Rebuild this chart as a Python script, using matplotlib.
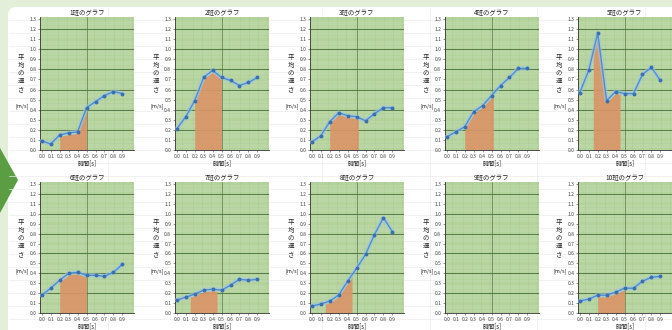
import numpy as np
import matplotlib
matplotlib.use('Agg')
import matplotlib.pyplot as plt
from matplotlib.patches import FancyBboxPatch, Polygon

plt.rcParams['font.family'] = ['Noto Sans CJK JP', 'DejaVu Sans']

# data (time [s] vs mean speed [m/s])
time_s = [0.0, 0.1, 0.2, 0.3, 0.4, 0.5, 0.6, 0.7, 0.8, 0.9]
titles = ['1班のグラフ', '2班のグラフ', '3班のグラフ', '4班のグラフ', '5班のグラフ',
          '6班のグラフ', '7班のグラフ', '8班のグラフ', '9班のグラフ', '10班のグラフ']
speed_1 = [0.09, 0.06, 0.15, 0.17, 0.18, 0.42, 0.48, 0.54, 0.58, 0.56]
speed_2 = [0.21, 0.33, 0.49, 0.72, 0.79, 0.72, 0.69, 0.64, 0.67, 0.72]
speed_3 = [0.08, 0.14, 0.28, 0.37, 0.34, 0.33, 0.29, 0.36, 0.42, 0.42]
speed_4 = [0.13, 0.18, 0.23, 0.38, 0.44, 0.54, 0.64, 0.72, 0.81, 0.81]
speed_5 = [0.57, 0.79, 1.16, 0.49, 0.58, 0.56, 0.56, 0.75, 0.82, 0.69]
speed_6 = [0.18, 0.25, 0.33, 0.40, 0.41, 0.38, 0.38, 0.37, 0.41, 0.49]
speed_7 = [0.13, 0.16, 0.19, 0.23, 0.24, 0.23, 0.28, 0.34, 0.33, 0.34]
speed_8 = [0.07, 0.09, 0.12, 0.18, 0.32, 0.45, 0.59, 0.79, 0.96, 0.82]
speed_9 = []
speed_10 = [0.12, 0.14, 0.18, 0.18, 0.21, 0.25, 0.25, 0.32, 0.36, 0.37]
speeds = [speed_1, speed_2, speed_3, speed_4, speed_5,
          speed_6, speed_7, speed_8, speed_9, speed_10]
# shaded interval (distance moved) for each group
fill_from = [0.2, 0.2, 0.2, 0.2, 0.15, 0.2, 0.15, 0.15, None, 0.2]
fill_to = [0.5, 0.5, 0.52, 0.52, 0.45, 0.5, 0.45, 0.45, None, 0.5]
ylabel_chars = ['平', '均', 'の', '速', 'さ']

W, H = 672, 330
fig = plt.figure(figsize=(W / 100, H / 100), dpi=100)
fig.patch.set_facecolor('#e3efd9')


def fx(x):
    return x / W


def fy(y):
    return 1 - y / H


# page panel + spreadsheet grid
bg = fig.add_axes([0, 0, 1, 1], zorder=-10)
bg.set_xlim(0, W)
bg.set_ylim(H, 0)
bg.axis('off')
bg.add_patch(FancyBboxPatch((8, 7), W + 20, H + 20, boxstyle='round,pad=0,rounding_size=8',
                            fc='white', ec='none'))
for yy in np.arange(20, H, 13):
    bg.plot([9, W], [yy, yy], color='#ececec', lw=0.5)
for xx in [108, 215, 322, 430, 537, 645]:
    bg.plot([xx, xx], [8, H], color='#ececec', lw=0.5)
bg.add_patch(Polygon([(0, 148), (18, 180), (0, 213)], closed=True, fc='#5a9d43', ec='none'))

cols = [40, 175, 310, 445, 578]
rows = [(17, 150), (182, 313)]
aw = 94

for i in range(10):
    r, c = divmod(i, 5)
    top, bot = rows[r]
    left = cols[c]
    ax = fig.add_axes([fx(left), fy(bot), fx(aw), (bot - top) / H])
    ax.set_facecolor('#abcd90')
    ax.set_xlim(-0.02, 1.03)
    ax.set_ylim(0, 1.32)
    ax.set_xticks(np.arange(0, 1.0, 0.1))
    ax.set_xticklabels([f'{v:.1f}' for v in np.arange(0, 1.0, 0.1)])
    ax.set_yticks(np.arange(0, 1.31, 0.1))
    ax.set_yticklabels([f'{v:.1f}' for v in np.arange(0, 1.31, 0.1)])
    ax.set_xticks(np.arange(0, 1.03, 0.025), minor=True)
    ax.set_yticks(np.arange(0, 1.32, 0.025), minor=True)
    ax.tick_params(which='major', labelsize=3.6, length=1.5, width=0.4, pad=1.2,
                   colors='#444444')
    ax.tick_params(which='minor', length=0)
    ax.grid(which='minor', color='#d2e5c4', lw=0.35)
    ax.grid(which='major', axis='x', color='#d2e5c4', lw=0.35)
    for yy in np.arange(0.2, 1.3, 0.2):
        ax.axhline(yy, color='#3d6534', lw=0.55, zorder=1.5)
    ax.axvline(0.5, color='#4d7442', lw=0.45, zorder=1.5)
    ax.set_axisbelow(True)
    for s in ['top', 'right']:
        ax.spines[s].set_visible(False)
    for s in ['left', 'bottom']:
        ax.spines[s].set_color('#333333')
        ax.spines[s].set_linewidth(0.6)

    vals = speeds[i]
    if vals:
        xs = np.array(time_s[:len(vals)])
        ys = np.array(vals)
        a, b = fill_from[i], fill_to[i]
        inner = xs[(xs > a) & (xs < b)]
        fx_seg = np.concatenate([[a], inner, [b]])
        fy_seg = np.interp(fx_seg, xs, ys) - 0.015
        ax.fill_between(fx_seg, 0, fy_seg, color='#d99568', alpha=0.92, lw=0, zorder=2)
        ax.plot(xs, ys, color='#9cc4ea', lw=3.2, alpha=0.6, zorder=3,
                solid_capstyle='round')
        ax.plot(xs, ys, color='#4f8fcf', lw=1.0, zorder=4)
        ax.plot(xs, ys, 'o', color='#3c6fae', ms=1.8, zorder=5)

    ax.set_title(titles[i], fontsize=4.6, pad=1.5, color='#222222')
    ax.set_xlabel('時間[s]', fontsize=4.4, labelpad=0.6, color='#222222')
    # vertical (tategaki) axis title, one character per line
    for k, ch in enumerate(ylabel_chars):
        fig.text(fx(left - 19), fy(top + 40 + 8 * k), ch, fontsize=4.6,
                 ha='center', va='center', color='#222222')
    fig.text(fx(left - 18), fy(top + 89), '[m/s]', fontsize=3.9,
             ha='center', va='center', color='#222222')

fig.savefig('out.png', dpi=100)
